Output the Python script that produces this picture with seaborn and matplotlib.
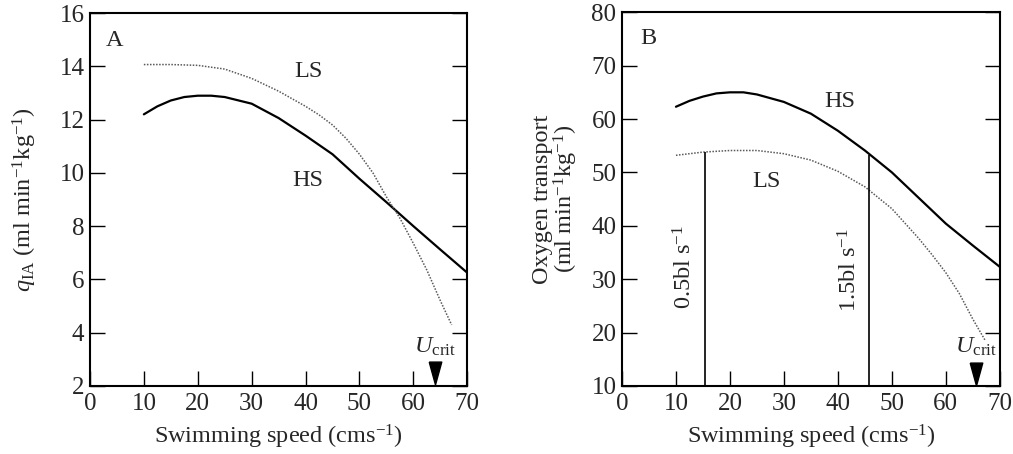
import matplotlib
matplotlib.use("Agg")
import matplotlib.pyplot as plt
import seaborn as sns
import pandas as pd

# ---------------- data ----------------
# Panel A: qIA vs swimming speed
a_hs_x = [10, 12.5, 15, 17.5, 20, 22.5, 25, 30, 35, 40, 45, 50, 55, 57.5, 60, 65, 70]
a_hs_y = [12.2, 12.5, 12.72, 12.85, 12.9, 12.9, 12.85, 12.6, 12.06, 11.4, 10.7, 9.78, 8.9, 8.45, 8.0, 7.12, 6.25]
a_ls_x = [10, 15, 20, 25, 30, 35, 40, 42.5, 45, 47.5, 50, 52.5, 55, 57.5, 60, 62.5, 65, 67.1]
a_ls_y = [14.07, 14.07, 14.04, 13.9, 13.55, 13.07, 12.5, 12.18, 11.8, 11.3, 10.7, 10.0, 9.1, 8.3, 7.35, 6.35, 5.2, 4.29]

# Panel B: oxygen transport vs swimming speed
b_hs_x = [10, 12.5, 15, 17.5, 20, 22.5, 25, 30, 35, 40, 45, 50, 55, 60, 65, 70]
b_hs_y = [62.3, 63.4, 64.2, 64.8, 65.0, 65.0, 64.6, 63.2, 61.0, 57.8, 54.1, 50.0, 45.2, 40.4, 36.3, 32.3]
b_ls_x = [10, 15, 20, 25, 30, 35, 40, 45, 50, 55, 57.5, 60, 62.5, 65, 67.3]
b_ls_y = [53.2, 53.8, 54.1, 54.1, 53.5, 52.3, 50.2, 47.3, 43.2, 37.6, 34.5, 31.2, 27.3, 22.5, 18.5]

# reference speeds (bl s-1) in panel B and their top heights
ref_x = [15.3, 45.8]
ref_top = [53.8, 53.2]
ref_labels = [r"0.5bl s$^{-1}$", r"1.5bl s$^{-1}$"]

ucrit_a = 64.0
ucrit_b = 65.5

xticks = [0, 10, 20, 30, 40, 50, 60, 70]
a_yticks = [2, 4, 6, 8, 10, 12, 14, 16]
b_yticks = [10, 20, 30, 40, 50, 60, 70, 80]

# ---------------- style ----------------
sns.set_style("ticks")
plt.rcParams["font.family"] = ["Liberation Serif", "DejaVu Serif"]
plt.rcParams["mathtext.fontset"] = "custom"
plt.rcParams["mathtext.rm"] = "Liberation Serif"
plt.rcParams["mathtext.it"] = "Liberation Serif:italic"
plt.rcParams["mathtext.bf"] = "Liberation Serif:bold"

FS = 18
LFS = 17.5

fig = plt.figure(figsize=(10.13, 4.54), dpi=100)
axA = fig.add_axes([0.0888, 0.150, 0.3725, 0.821])
axB = fig.add_axes([0.614, 0.150, 0.373, 0.823])

dfA_hs = pd.DataFrame({"x": a_hs_x, "y": a_hs_y})
dfA_ls = pd.DataFrame({"x": a_ls_x, "y": a_ls_y})
dfB_hs = pd.DataFrame({"x": b_hs_x, "y": b_hs_y})
dfB_ls = pd.DataFrame({"x": b_ls_x, "y": b_ls_y})

solid_kw = dict(color="black", linewidth=1.6)
dot_kw = dict(color="0.35", linewidth=1.1, linestyle=(0, (1, 1)))

sns.lineplot(data=dfA_hs, x="x", y="y", ax=axA, **solid_kw)
sns.lineplot(data=dfA_ls, x="x", y="y", ax=axA, **dot_kw)
sns.lineplot(data=dfB_hs, x="x", y="y", ax=axB, **solid_kw)
sns.lineplot(data=dfB_ls, x="x", y="y", ax=axB, **dot_kw)

# reference vertical lines in B
axB.vlines(ref_x, [10, 10], ref_top, color="black", linewidth=1.2)
axB.text(11.7, 32.3, ref_labels[0], rotation=90, ha="center", va="center", fontsize=LFS)
axB.text(42.3, 31.7, ref_labels[1], rotation=90, ha="center", va="center", fontsize=LFS)

tri = [(-0.55, 1), (0.55, 1), (0, -1), (-0.55, 1)]

def style_axes(ax, ylim, yticks):
    ax.set_xlim(0, 70)
    ax.set_ylim(*ylim)
    ax.set_xticks(xticks)
    ax.set_yticks(yticks)
    ax.set_xlabel(r"Swimming speed (cms$^{-1}$)", fontsize=LFS, labelpad=6)
    ax.tick_params(axis="both", direction="in", labelsize=FS, width=1.0,
                   color="black")
    ax.tick_params(axis="y", length=11, right=True, pad=4)
    ax.tick_params(axis="x", length=11, pad=5)
    for s in ax.spines.values():
        s.set_visible(True)
        s.set_linewidth(1.5)
        s.set_color("black")

style_axes(axA, (2, 16), a_yticks)
style_axes(axB, (10, 80), b_yticks)

axA.set_ylabel(r"$q_{\mathrm{IA}}$ (ml min$^{-1}$kg$^{-1}$)", fontsize=LFS, labelpad=15)
axB.set_ylabel("Oxygen transport\n" + r"(ml min$^{-1}$kg$^{-1}$)", fontsize=LFS,
               labelpad=8, linespacing=0.95)

# panel texts
axA.text(4.6, 14.97, "A", ha="center", va="center", fontsize=LFS)
axA.text(40.5, 13.8, "LS", ha="center", va="center", fontsize=LFS)
axA.text(40.5, 9.72, "HS", ha="center", va="center", fontsize=LFS)
axA.text(ucrit_a, 3.47, r"$U_{\mathrm{crit}}$", ha="center", va="center", fontsize=LFS)
axA.scatter([ucrit_a], [2.5], marker=tri, s=270, color="black", clip_on=False, zorder=5)

axB.text(4.9, 75.0, "B", ha="center", va="center", fontsize=LFS)
axB.text(40.3, 63.2, "HS", ha="center", va="center", fontsize=LFS)
axB.text(26.8, 48.2, "LS", ha="center", va="center", fontsize=LFS)
axB.text(ucrit_b, 17.3, r"$U_{\mathrm{crit}}$", ha="center", va="center", fontsize=LFS)
axB.scatter([ucrit_b], [12.3], marker=tri, s=270, color="black", clip_on=False, zorder=5)

fig.savefig("out.png", dpi=100)
